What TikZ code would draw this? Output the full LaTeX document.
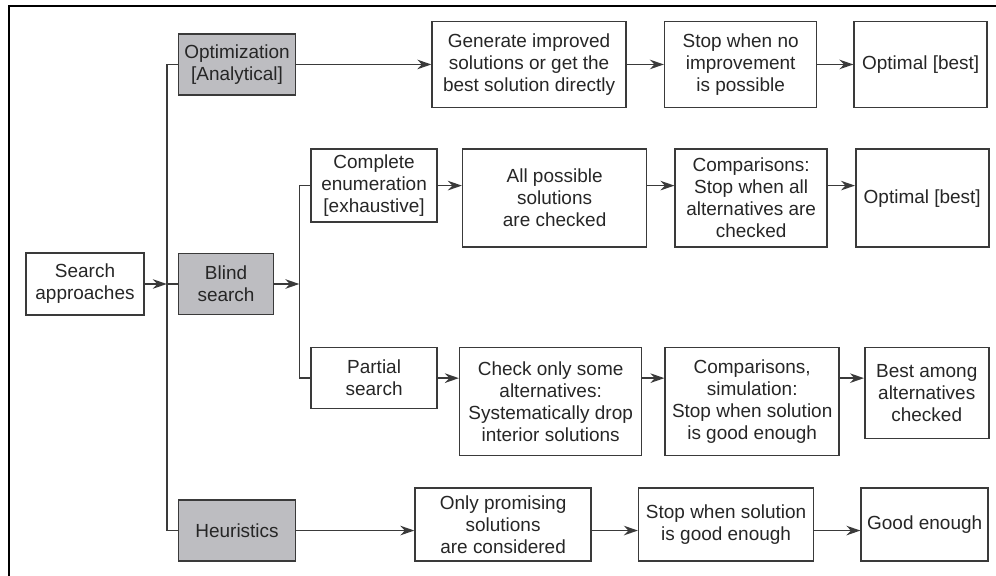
\documentclass[tikz,border=0pt]{standalone}
\usepackage{fontspec}
\setmainfont{Liberation Sans}
\usetikzlibrary{arrows.meta, positioning, calc}
\definecolor{boxgray}{HTML}{BDBDC1}
\definecolor{linegray}{HTML}{3A3A3A}

\begin{document}
\begin{tikzpicture}[
      node distance=1cm,
      font=\fontsize{13.5}{15.6}\selectfont,
      block/.style={rectangle, draw=linegray, line width=1.1pt, align=center, inner sep=1.5pt, text=black!85},
      grayblock/.style={block, fill=boxgray},
      arrow/.style={-{Stealth[length=3.5mm, width=2.4mm]}, line width=1.1pt, draw=linegray},
      link/.style={line width=1.1pt, draw=linegray}
  ]
      \useasboundingbox (0,0) rectangle (24.9,-14.4);
      % Frame
      \draw[line width=1.1pt] (0.225,-14.4) -- (0.225,-0.15) -- (24.9,-0.15);

      % Root and approaches
      \node[block, minimum width=2.95cm, minimum height=1.55cm] (SA) at (2.125,-7.1) {Search\\approaches};
      \node[grayblock, minimum width=2.375cm, minimum height=1.525cm, right=0.825cm of SA] (BS) {Blind\\search};
      \node[grayblock, minimum width=2.925cm, minimum height=1.525cm, above=3.925cm of BS.north west, anchor=south west] (OPT) {Optimization\\{[Analytical]}};
      \node[grayblock, minimum width=2.925cm, minimum height=1.525cm, below=4.6cm of BS.south west, anchor=north west] (HEU) {Heuristics};

      % Optimization row
      \node[block, minimum width=4.85cm, minimum height=2.15cm, right=3.375cm of OPT] (GEN) {Generate improved\\solutions or get the\\best solution directly};
      \node[block, minimum width=3.8cm, minimum height=2.15cm, right=0.925cm of GEN] (STOP1) {Stop when no\\improvement\\is possible};
      \node[block, minimum width=3.325cm, minimum height=2.15cm, right=0.9cm of STOP1] (BEST1) {Optimal [best]};

      % Complete enumeration row
      \node[block, minimum width=3.15cm, minimum height=1.825cm, above right=2.46cm and 0.9cm of BS.east, anchor=west] (CE) {Complete\\enumeration\\{[exhaustive]}};
      \node[block, minimum width=4.6cm, minimum height=2.45cm, right=0.6cm of CE.north east, anchor=north west] (ALL) {All possible\\solutions\\are checked};
      \node[block, minimum width=3.8cm, minimum height=2.45cm, right=0.675cm of ALL] (CMP1) {Comparisons:\\Stop when all\\alternatives are\\checked};
      \node[block, minimum width=3.325cm, minimum height=2.45cm, right=0.675cm of CMP1] (BEST2) {Optimal [best]};

      % Partial search row
      \node[block, minimum width=3.15cm, minimum height=1.525cm, below=3.1cm of CE.south west, anchor=north west] (PS) {Partial\\search};
      \node[block, minimum width=4.55cm, minimum height=2.7cm, right=0.525cm of PS.north east, anchor=north west] (CHK) {Check only some\\alternatives:\\Systematically drop\\interior solutions};
      \node[block, minimum width=4.35cm, minimum height=2.7cm, right=0.55cm of CHK] (SIM) {Comparisons,\\simulation:\\Stop when solution\\is good enough};
      \node[block, minimum width=3.1cm, minimum height=2.275cm, right=0.6cm of SIM.north east, anchor=north west] (BAA) {Best among\\alternatives\\checked};

      % Heuristics row
      \node[block, minimum width=4.4cm, minimum height=1.825cm, right=2.95cm of HEU.south east, anchor=south west] (PROM) {Only promising\\solutions\\are considered};
      \node[block, minimum width=4.375cm, minimum height=1.825cm, right=1.15cm of PROM] (STOP4) {Stop when solution\\is good enough};
      \node[block, minimum width=3.175cm, minimum height=1.825cm, right=1.15cm of STOP4] (GOOD) {Good enough};

      % Trunks
      \coordinate (T1) at ([xshift=-0.275cm]BS.west);
      \coordinate (T2) at ([xshift=0.625cm]BS.east);
      \draw[arrow] (SA.east) -- (T1);
      \draw[link] (OPT.west) -- (OPT.west -| T1) -- (HEU.west -| T1) -- (HEU.west);
      \draw[link] (T1) -- (BS.west);
      \draw[arrow] (BS.east) -- (T2);
      \draw[link] (CE.west) -- (CE.west -| T2) -- (PS.west -| T2) -- (PS.west);

      % Arrows
      \draw[arrow] (OPT.east) -- (GEN.west);
      \draw[arrow] (GEN.east) -- (STOP1.west);
      \draw[arrow] (STOP1.east) -- (BEST1.west);
      \draw[arrow] (CE.east) -- (CE.east -| ALL.west);
      \draw[arrow] (ALL.east |- CE.east) -- (CMP1.west |- CE.east);
      \draw[arrow] (CMP1.east |- CE.east) -- (BEST2.west |- CE.east);
      \draw[arrow] (PS.east) -- (PS.east -| CHK.west);
      \draw[arrow] (CHK.east |- PS.east) -- (SIM.west |- PS.east);
      \draw[arrow] (SIM.east |- PS.east) -- (BAA.west |- PS.east);
      \draw[arrow] (HEU.east) -- (PROM.west |- HEU.east);
      \draw[arrow] (PROM.east |- HEU.east) -- (STOP4.west |- HEU.east);
      \draw[arrow] (STOP4.east |- HEU.east) -- (GOOD.west |- HEU.east);
  \end{tikzpicture}
\end{document}
